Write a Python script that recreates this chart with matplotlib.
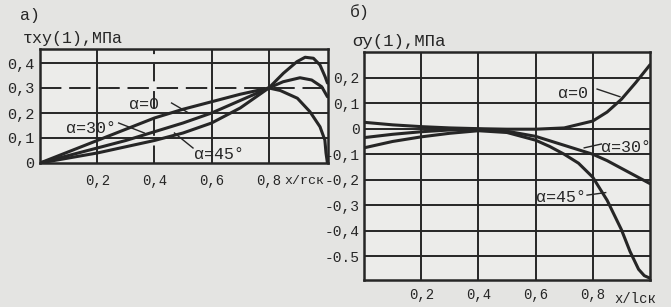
import numpy as np
from matplotlib import pyplot as plt

# а) tau_xy(1), МПа
x_tau = [0, 0.1, 0.2, 0.3, 0.4, 0.5, 0.6, 0.7, 0.8]
tau_a0 = [0, 0.045, 0.09, 0.135, 0.18, 0.215, 0.245, 0.275, 0.30]
tau_a30 = [0, 0.03, 0.06, 0.09, 0.125, 0.16, 0.20, 0.25, 0.30]
tau_a45 = [0, 0.02, 0.04, 0.065, 0.09, 0.12, 0.16, 0.22, 0.30]
# right-hand ends after the crossing point
x_tau_a0_end = [0.8, 0.84, 0.90, 0.944, 0.979, 0.996, 1.0, 1.005]
tau_a0_end = [0.30, 0.29, 0.259, 0.205, 0.145, 0.092, 0.04, 0.0]
x_tau_a30_end = [0.8, 0.85, 0.909, 0.95, 0.985, 1.005]
tau_a30_end = [0.30, 0.325, 0.341, 0.332, 0.305, 0.265]
x_tau_a45_end = [0.8, 0.851, 0.898, 0.927, 0.956, 0.979, 0.997, 1.005]
tau_a45_end = [0.30, 0.359, 0.405, 0.423, 0.419, 0.392, 0.345, 0.32]

# б) sigma_y(1), МПа
x_sig = [0, 0.1, 0.2, 0.3, 0.4, 0.5, 0.6, 0.7, 0.8, 0.85, 0.9, 0.95, 1.0]
sig_a0 = [0.025, 0.015, 0.008, 0.003, 0.0, -0.002, -0.002, 0.003, 0.03, 0.065, 0.115, 0.18, 0.25]
sig_a30 = [-0.035, -0.022, -0.012, -0.005, -0.002, -0.01, -0.03, -0.065, -0.10, -0.125, -0.155, -0.185, -0.215]
x_sig45 = [0, 0.1, 0.2, 0.3, 0.4, 0.5, 0.6, 0.65, 0.7, 0.75, 0.8, 0.85, 0.9, 0.93, 0.96, 0.98, 1.0]
sig_a45 = [-0.075, -0.05, -0.032, -0.018, -0.008, -0.015, -0.045, -0.07, -0.10, -0.135, -0.19,
           -0.28, -0.395, -0.48, -0.55, -0.575, -0.585]

tau_yticks = [0, 0.1, 0.2, 0.3, 0.4]
tau_ylabels = ['0', '0,1', '0,2', '0,3', '0,4']
sig_yticks = [0.2, 0.1, 0, -0.1, -0.2, -0.3, -0.4, -0.5]
sig_ylabels = ['0,2', '0,1', '0', '-0,1', '-0,2', '-0,3', '-0,4', '-0.5']
xticks = [0.2, 0.4, 0.6, 0.8]
xlabels = ['0,2', '0,4', '0,6', '0,8']

W, H = 671, 307
bg = '#e4e4e2'
ink = '#262626'
mono = 'Liberation Mono'

fig = plt.figure(figsize=(W / 100, H / 100), dpi=100, facecolor=bg)


def px_axes(l, t, r, b):
    return fig.add_axes([l / W, 1 - b / H, (r - l) / W, (b - t) / H])


def style(ax):
    ax.set_facecolor('#ececea')
    for s in ax.spines.values():
        s.set_linewidth(1.8)
        s.set_color(ink)
    ax.tick_params(length=0, labelcolor=ink)
    ax.set_xticks(xticks)
    ax.set_xticklabels(xlabels, fontsize=10, family=mono)
    vl = []
    for v in xticks:
        vl.append(ax.axvline(v, color=ink, lw=1.4, zorder=1))
    return vl


# ---- а) ----
ax1 = px_axes(40, 49, 328, 163)
vlines = style(ax1)
vlines[1].set_dashes((9, 5))   # the 0,4 vertical is broken in the scan
ax1.set_xlim(0, 1.007)
ax1.set_ylim(0, 0.456)
ax1.set_yticks(tau_yticks)
ax1.set_yticklabels(tau_ylabels, fontsize=11, family=mono)
ax1.tick_params(axis='y', pad=4)
ax1.tick_params(axis='x', pad=8)
for v in [0.1, 0.2, 0.4]:
    ax1.axhline(v, color=ink, lw=1.4, zorder=1)
ax1.axhline(0.3, color=ink, lw=1.4, dashes=(11, 4), zorder=1)
for xs, ys in [(x_tau, tau_a0), (x_tau, tau_a30), (x_tau, tau_a45),
               (x_tau_a0_end, tau_a0_end), (x_tau_a30_end, tau_a30_end),
               (x_tau_a45_end, tau_a45_end)]:
    ax1.plot(xs, ys, color=ink, lw=2.2, solid_capstyle='round', zorder=3)
ax1.text(0.995, -0.05, 'x/rск', fontsize=9.5, family=mono, color=ink,
         ha='right', va='top', clip_on=False)

lbl = dict(fontsize=12, family=mono, color=ink, zorder=4)
ax1.text(0.31, 0.215, '\u03b1=0', **lbl)
ax1.plot([0.46, 0.52], [0.24, 0.2], color=ink, lw=1.0)
ax1.text(0.09, 0.12, '\u03b1=30\u00b0', **lbl)
ax1.plot([0.275, 0.365], [0.16, 0.12], color=ink, lw=1.0)
ax1.text(0.54, 0.015, '\u03b1=45\u00b0', **lbl)
ax1.plot([0.535, 0.47], [0.06, 0.12], color=ink, lw=1.0)

fig.text(20 / W, 1 - 8 / H, 'а)', fontsize=12, family=mono, color=ink, va='top')
fig.text(23 / W, 1 - 31 / H, '\u03c4xy(1),МПа', fontsize=12, family=mono, color=ink, va='top')

# ---- б) ----
ax2 = px_axes(364, 52, 650, 280)
style(ax2)
ax2.set_xlim(0, 1.0)
ax2.set_ylim(-0.592, 0.3)
ax2.set_yticks(sig_yticks)
ax2.set_yticklabels(sig_ylabels, fontsize=10.5, family=mono)
ax2.tick_params(axis='y', pad=3)
ax2.tick_params(axis='x', pad=6)
for v in sig_yticks:
    ax2.axhline(v, color=ink, lw=1.4, zorder=1)
ax2.plot(x_sig, sig_a0, color=ink, lw=2.2, solid_capstyle='round', zorder=3)
ax2.plot(x_sig, sig_a30, color=ink, lw=2.2, solid_capstyle='round', zorder=3)
ax2.plot(x_sig45, sig_a45, color=ink, lw=2.2, solid_capstyle='round', zorder=3)
ax2.text(0.875, -0.64, 'x/lск', fontsize=10, family=mono, color=ink, va='top', clip_on=False)

ax2.text(0.68, 0.12, '\u03b1=0', **lbl)
ax2.plot([0.815, 0.895], [0.155, 0.125], color=ink, lw=1.0)
ax2.text(0.83, -0.09, '\u03b1=30\u00b0', **lbl)
ax2.plot([0.83, 0.77], [-0.06, -0.075], color=ink, lw=1.0)
ax2.text(0.6, -0.285, '\u03b1=45\u00b0', **lbl)
ax2.plot([0.78, 0.845], [-0.26, -0.25], color=ink, lw=1.0)

fig.text(350 / W, 1 - 4 / H, 'б)', fontsize=12, family=mono, color=ink, va='top')
fig.text(352 / W, 1 - 34 / H, '\u03c3y(1),МПа', fontsize=12.5, family=mono, color=ink, va='top')

fig.savefig('out.png', dpi=100, facecolor=bg)
